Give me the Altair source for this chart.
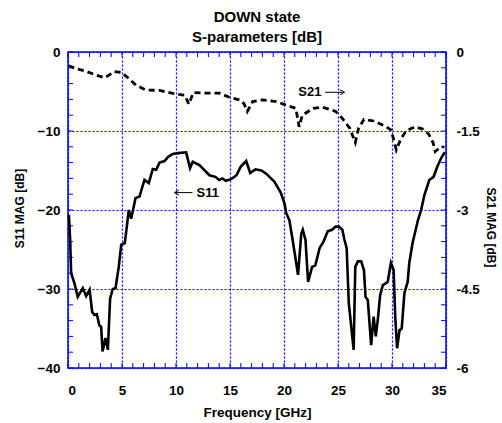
import altair as alt
import pandas as pd

# ---- data ----
s11_freq = [0.08, 0.2, 0.29, 0.6, 0.9, 1.37, 1.68, 2.0, 2.24, 2.45, 2.67, 2.9, 3.07, 3.2, 3.47, 3.69, 3.9,
            4.15, 4.4, 4.7, 4.93, 5.26, 5.63, 5.85, 6.25, 6.62, 7.08, 7.48, 7.85, 8.17, 8.47, 8.94, 9.25,
            9.7, 10.17, 10.94, 11.3, 11.55, 12.17, 13.1, 13.65, 14.0, 14.3, 14.6, 15.1, 15.6, 16.0, 16.5,
            16.87, 17.36, 17.9, 18.35, 19.1, 19.7, 20.05, 20.2, 20.5, 20.8, 21.3, 21.6, 21.74, 21.99,
            22.23, 22.6, 22.9, 23.3, 23.66, 24.05, 24.46, 24.77, 25.08, 25.4, 25.6, 25.8, 26.0, 26.45,
            26.6, 26.84, 27.15, 27.4, 27.55, 27.76, 28.07, 28.3, 28.5, 28.7, 28.9, 29.15, 29.4, 29.6,
            29.9, 30.15, 30.3, 30.47, 30.7, 30.9, 31.15, 31.45, 31.6, 31.9, 32.4, 32.7, 33.0, 33.45,
            33.85, 34.2, 34.6, 34.9]
s11_db = [-20.6, -23.8, -28.0, -29.3, -31.0, -29.9, -30.9, -30.1, -32.9, -33.3, -33.2, -34.6, -34.8, -37.9,
          -36.2, -37.7, -31.2, -30.0, -29.9, -27.2, -24.4, -24.2, -20.0, -21.1, -18.5, -18.3, -16.2, -16.6,
          -14.8, -14.9, -14.0, -13.8, -13.3, -12.9, -12.8, -12.7, -14.7, -13.9, -14.3, -15.6, -15.8, -16.2,
          -16.0, -16.3, -16.1, -15.6, -14.5, -13.8, -15.3, -14.85, -15.0, -15.4, -16.4, -17.8, -19.2, -20.4,
          -21.3, -23.8, -28.2, -23.0, -22.5, -23.8, -29.1, -27.2, -27.0, -24.8, -24.0, -22.7, -22.5, -22.1,
          -22.1, -22.5, -23.8, -24.8, -31.8, -37.7, -27.2, -26.5, -26.5, -27.6, -31.0, -31.4, -37.1, -33.5,
          -36.0, -33.7, -30.8, -29.5, -29.3, -29.1, -26.7, -27.6, -33.5, -37.5, -35.2, -35.0, -30.5, -29.1,
          -26.7, -24.2, -21.3, -20.0, -18.1, -16.2, -15.8, -14.5, -13.3, -12.7]

s21_freq = [0.05, 0.8, 1.6, 2.6, 3.4, 4.3, 4.97, 5.6, 6.3, 7.2, 8.5, 10.0, 10.8, 11.2, 11.6, 12.8, 14.0,
            14.95, 15.9, 16.3, 16.6, 17.1, 18.0, 19.3, 20.2, 21.1, 21.4, 21.7, 22.7, 23.6, 24.8, 25.4,
            26.1, 26.6, 26.9, 27.4, 28.3, 29.3, 29.9, 30.1, 30.4, 30.8, 31.3, 32.1, 32.8, 33.4, 33.8,
            34.0, 34.4, 34.8]
s21_db = [-0.26, -0.32, -0.36, -0.44, -0.49, -0.37, -0.39, -0.50, -0.63, -0.72, -0.73, -0.80, -0.82, -0.99,
          -0.77, -0.78, -0.78, -0.86, -0.91, -0.98, -1.13, -0.94, -0.91, -0.94, -1.01, -1.07, -1.42, -1.20,
          -1.07, -1.05, -1.13, -1.26, -1.45, -1.72, -1.45, -1.28, -1.31, -1.40, -1.48, -1.62, -1.86, -1.66,
          -1.50, -1.42, -1.46, -1.56, -1.72, -1.89, -1.82, -1.80]

x_ticks = [0, 5, 10, 15, 20, 25, 30, 35]
left_ticks = [0, -10, -20, -30, -40]
right_ticks = [0, -1.5, -3, -4.5, -6]
x_minor = list(range(0, 36))
y_minor = list(range(-40, 1, 2))

W, H = 378, 316
BLUE = "#0000ff"
FONT = "Liberation Sans"

s11 = pd.DataFrame({"f": s11_freq, "v": s11_db})
s21 = pd.DataFrame({"f": s21_freq, "v": s21_db})
xm = pd.DataFrame({"f": x_minor})
ym = pd.DataFrame({"v": y_minor})

xs = alt.Scale(domain=[0, 35], nice=False, zero=False)
yl = alt.Scale(domain=[-40, 0], nice=False, zero=False)
yr = alt.Scale(domain=[-6, 0], nice=False, zero=False)

x_axis = alt.Axis(values=x_ticks, title="Frequency [GHz]", grid=True, ticks=False, domain=False,
                  labelPadding=15, titlePadding=9, format="d", titleFontSize=13.5)
left_axis = alt.Axis(values=left_ticks, title="S11 MAG [dB]", grid=True, ticks=False, domain=False,
                     labelPadding=8, titlePadding=11, format="d", titleFontSize=12, titleY=156)
right_axis = alt.Axis(values=right_ticks, title="S21 MAG [dB]", orient="right", grid=False, ticks=False,
                      domain=False, labelPadding=10, titlePadding=4, labelExpr="datum.value + ''",
                      titleFontSize=12, titleY=175)

s11_line = alt.Chart(s11).mark_line(color="black", strokeWidth=2.6).encode(
    x=alt.X("f:Q", scale=xs, axis=x_axis),
    y=alt.Y("v:Q", scale=yl, axis=left_axis),
)

tick_style = dict(color=BLUE, strokeWidth=1)
x_bot = alt.Chart(xm).mark_rule(**tick_style).encode(x=alt.X("f:Q", scale=xs), y=alt.value(H), y2=alt.value(H - 5))
x_top = alt.Chart(xm).mark_rule(**tick_style).encode(x=alt.X("f:Q", scale=xs), y=alt.value(0), y2=alt.value(5))
y_lef = alt.Chart(ym).mark_rule(**tick_style).encode(y=alt.Y("v:Q", scale=yl), x=alt.value(0), x2=alt.value(5))
y_rig = alt.Chart(ym).mark_rule(**tick_style).encode(y=alt.Y("v:Q", scale=yl), x=alt.value(W), x2=alt.value(W - 5))

# S11 annotation
s11_lbl = pd.DataFrame({"f": [11.9], "v": [-17.8], "t": ["S11"]})
s11_arr = pd.DataFrame({"f": [9.86], "f2": [11.53], "v": [-17.8]})
s11_text = alt.Chart(s11_lbl).mark_text(align="left", baseline="middle", font=FONT, fontWeight="bold",
                                        fontSize=13).encode(x=alt.X("f:Q", scale=xs), y=alt.Y("v:Q", scale=yl), text="t:N")
s11_shaft = alt.Chart(s11_arr).mark_rule(color="black", strokeWidth=1).encode(
    x=alt.X("f:Q", scale=xs), x2="f2:Q", y=alt.Y("v:Q", scale=yl))
s11_head = alt.Chart(s11_arr).mark_point(shape="M0,0L1.4,-0.8M0,0L1.4,0.8", filled=False, color="black",
                                         strokeWidth=1, size=40, opacity=1).encode(
    x=alt.X("f:Q", scale=xs), y=alt.Y("v:Q", scale=yl))

left_layer = alt.layer(y_lef, y_rig, x_bot, x_top, s11_line, s11_shaft, s11_head, s11_text)

s21_line = alt.Chart(s21).mark_line(color="black", strokeWidth=2.8, strokeDash=[6, 4]).encode(
    x=alt.X("f:Q", scale=xs, axis=x_axis),
    y=alt.Y("v:Q", scale=yr, axis=right_axis),
)
s21_lbl = pd.DataFrame({"f": [23.47], "v": [-0.765], "t": ["S21"]})
s21_arr = pd.DataFrame({"f": [23.8], "f2": [25.6], "v": [-0.765]})
s21_text = alt.Chart(s21_lbl).mark_text(align="right", baseline="middle", font=FONT, fontWeight="bold",
                                        fontSize=13).encode(x=alt.X("f:Q", scale=xs), y=alt.Y("v:Q", scale=yr), text="t:N")
s21_shaft = alt.Chart(s21_arr).mark_rule(color="black", strokeWidth=1).encode(
    x=alt.X("f:Q", scale=xs), x2="f2:Q", y=alt.Y("v:Q", scale=yr))
s21_head = alt.Chart(s21_arr).mark_point(shape="M0,0L-1.4,-0.8M0,0L-1.4,0.8", filled=False, color="black",
                                         strokeWidth=1, size=40, opacity=1).encode(
    x=alt.X("f2:Q", scale=xs), y=alt.Y("v:Q", scale=yr))

right_layer = alt.layer(s21_line, s21_shaft, s21_head, s21_text)

chart = alt.layer(left_layer, right_layer).resolve_scale(y="independent").properties(
    width=W, height=H,
    autosize=alt.AutoSizeParams(type="none"),
    padding={"left": 68, "top": 52, "right": 56, "bottom": 55},
    background="white",
    title=alt.Title(["DOWN state", "S-parameters [dB]"], anchor="middle", font=FONT, fontSize=15,
                    fontWeight="bold", lineHeight=20, offset=0, color="black"),
).configure_view(stroke=BLUE, strokeWidth=1.5).configure_axis(
    gridColor=BLUE, gridDash=[2, 2], gridWidth=1.2, gridOpacity=1,
    labelFont=FONT, labelFontSize=13.5, labelFontWeight="bold", labelColor="black",
    titleFont=FONT, titleFontWeight="bold", titleColor="black",
)

chart.save("out.html", embed_options={"renderer": "svg", "actions": False})
